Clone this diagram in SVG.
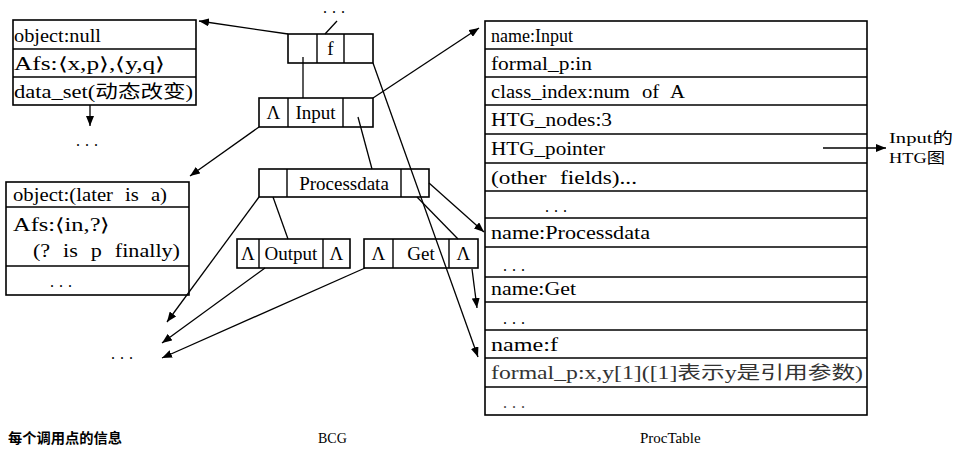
<svg xmlns="http://www.w3.org/2000/svg" width="961" height="456" viewBox="0 0 961 456">
<style>
  text { font-family: "Liberation Serif", "Noto Sans CJK SC", serif; fill: #000; }
  .t { font-size: 18px; word-spacing: 6px; }
  .c { font-size: 19px; text-anchor: middle; }
  .box { fill: #fff; stroke: #000; stroke-width: 1.6; }
  .div { stroke: #000; stroke-width: 1.4; fill: none; }
  .con { stroke: #000; stroke-width: 1.3; fill: none; }
  .arr { marker-end: url(#ah); }
  .dots { font-size: 16px; letter-spacing: 5px; }
  .lbl { font-size: 15px; }
</style>
<defs>
  <marker id="ah" markerUnits="userSpaceOnUse" markerWidth="10" markerHeight="8" refX="10" refY="4" orient="auto">
    <path d="M0,0 L10,4 L0,8 z" fill="#000"/>
  </marker>
</defs>

<g id="callinfo-top">
  <rect class="box" x="13" y="20" width="183" height="85"/>
  <line class="div" x1="13" y1="49" x2="196" y2="49"/>
  <line class="div" x1="13" y1="77" x2="196" y2="77"/>
  <text class="t" x="14" y="42" textLength="87" lengthAdjust="spacingAndGlyphs">object:null</text>
  <text class="t" x="14" y="70" textLength="151" lengthAdjust="spacingAndGlyphs">Afs:⟨x,p⟩,⟨y,q⟩</text>
  <text class="t" x="14" y="98" textLength="179" lengthAdjust="spacingAndGlyphs">data_set(动态改变)</text>
</g>
<text class="dots" x="76" y="146">...</text>

<g id="callinfo-mid">
  <rect class="box" x="6" y="182" width="183" height="113"/>
  <line class="div" x1="6" y1="207" x2="189" y2="207"/>
  <line class="div" x1="6" y1="266" x2="189" y2="266"/>
  <text class="t" x="13" y="201" textLength="154" lengthAdjust="spacingAndGlyphs">object:(later is a)</text>
  <text class="t" x="13" y="231" textLength="97" lengthAdjust="spacingAndGlyphs">Afs:⟨in,?⟩</text>
  <text class="t" x="33" y="257" textLength="147" lengthAdjust="spacingAndGlyphs">(? is p finally)</text>
  <text class="dots" x="50" y="287">...</text>
</g>
<text class="dots" x="111" y="359">...</text>

<g id="node-f">
  <rect class="box" x="288" y="34" width="85" height="29"/>
  <line class="div" x1="317" y1="34" x2="317" y2="63"/>
  <line class="div" x1="344" y1="34" x2="344" y2="63"/>
  <text class="c" x="330.5" y="55">f</text>
</g>
<text class="dots" x="323" y="13">...</text>

<g id="node-input">
  <rect class="box" x="259" y="98" width="114" height="29"/>
  <line class="div" x1="288" y1="98" x2="288" y2="127"/>
  <line class="div" x1="343" y1="98" x2="343" y2="127"/>
  <text class="c" x="273.5" y="119">Λ</text>
  <text class="c" x="315.5" y="119">Input</text>
</g>

<g id="node-processdata">
  <rect class="box" x="259" y="169" width="170" height="28"/>
  <line class="div" x1="287" y1="169" x2="287" y2="197"/>
  <line class="div" x1="401" y1="169" x2="401" y2="197"/>
  <text class="c" x="344" y="190">Processdata</text>
</g>

<g id="node-output">
  <rect class="box" x="237" y="239" width="113" height="29"/>
  <line class="div" x1="259" y1="239" x2="259" y2="268"/>
  <line class="div" x1="323" y1="239" x2="323" y2="268"/>
  <text class="c" x="248" y="260">Λ</text>
  <text class="c" x="291" y="260">Output</text>
  <text class="c" x="336.5" y="260">Λ</text>
</g>

<g id="node-get">
  <rect class="box" x="364" y="239" width="114" height="29"/>
  <line class="div" x1="393" y1="239" x2="393" y2="268"/>
  <line class="div" x1="449" y1="239" x2="449" y2="268"/>
  <text class="c" x="378.5" y="260">Λ</text>
  <text class="c" x="421" y="260">Get</text>
  <text class="c" x="463.5" y="260">Λ</text>
</g>

<g id="proctable">
  <rect class="box" x="485" y="21" width="382" height="394"/>
  <g class="div">
    <line x1="485" y1="49" x2="867" y2="49"/>
    <line x1="485" y1="77" x2="867" y2="77"/>
    <line x1="485" y1="105" x2="867" y2="105"/>
    <line x1="485" y1="134" x2="867" y2="134"/>
    <line x1="485" y1="163" x2="867" y2="163"/>
    <line x1="485" y1="191" x2="867" y2="191"/>
    <line x1="485" y1="218" x2="867" y2="218"/>
    <line x1="485" y1="247" x2="867" y2="247"/>
    <line x1="485" y1="277" x2="867" y2="277"/>
    <line x1="485" y1="302" x2="867" y2="302"/>
    <line x1="485" y1="330" x2="867" y2="330"/>
    <line x1="485" y1="358" x2="867" y2="358"/>
    <line x1="485" y1="387" x2="867" y2="387"/>
  </g>
  <text class="t" x="491" y="42" textLength="82" lengthAdjust="spacingAndGlyphs">name:Input</text>
  <text class="t" x="491" y="70" textLength="101" lengthAdjust="spacingAndGlyphs">formal_p:in</text>
  <text class="t" x="491" y="98" textLength="194" lengthAdjust="spacingAndGlyphs">class_index:num of A</text>
  <text class="t" x="491" y="126" textLength="121" lengthAdjust="spacingAndGlyphs">HTG_nodes:3</text>
  <text class="t" x="491" y="155" textLength="114" lengthAdjust="spacingAndGlyphs">HTG_pointer</text>
  <text class="t" x="491" y="184" textLength="146" lengthAdjust="spacingAndGlyphs">(other fields)...</text>
  <text class="dots" x="545" y="212">...</text>
  <text class="t" x="491" y="239" textLength="159" lengthAdjust="spacingAndGlyphs">name:Processdata</text>
  <text class="dots" x="503" y="271">...</text>
  <text class="t" x="491" y="295" textLength="85" lengthAdjust="spacingAndGlyphs">name:Get</text>
  <text class="dots" x="503" y="324">...</text>
  <text class="t" x="491" y="351" textLength="67" lengthAdjust="spacingAndGlyphs">name:f</text>
  <text class="t" x="491" y="379" textLength="372" lengthAdjust="spacingAndGlyphs" style="fill:#333">formal_p:x,y[1]([1]表示y是引用参数)</text>
  <text class="dots" x="503" y="408" style="fill:#444">...</text>
</g>

<g id="htg-label">
  <text class="lbl" x="889" y="143" textLength="64" lengthAdjust="spacingAndGlyphs">Input的</text>
  <text class="lbl" x="889" y="163" textLength="56" lengthAdjust="spacingAndGlyphs">HTG图</text>
</g>

<g id="connectors">
  <line class="con" x1="337" y1="21" x2="325" y2="34"/>
  <line class="con arr" x1="288" y1="34" x2="199" y2="21"/>
  <line class="con" x1="303" y1="57" x2="303" y2="98"/>
  <line class="con arr" x1="373" y1="63" x2="478" y2="357"/>
  <line class="con arr" x1="259" y1="127" x2="190" y2="176"/>
  <line class="con arr" x1="373" y1="98" x2="479" y2="28"/>
  <line class="con" x1="358" y1="117" x2="372" y2="169"/>
  <line class="con" x1="273" y1="197" x2="288" y2="239"/>
  <line class="con arr" x1="259" y1="197" x2="167" y2="322"/>
  <line class="con arr" x1="429" y1="183" x2="484" y2="232"/>
  <line class="con" x1="417" y1="197" x2="458" y2="239"/>
  <line class="con arr" x1="472" y1="269" x2="477" y2="308"/>
  <line class="con arr" x1="265" y1="268" x2="162" y2="343"/>
  <line class="con arr" x1="365" y1="268" x2="162" y2="358"/>
  <line class="con arr" x1="90" y1="105" x2="90" y2="126"/>
  <line class="con arr" x1="823" y1="148" x2="886" y2="148"/>
</g>

<g id="captions">
  <text x="8" y="443" style="font-size:14px;font-weight:bold" textLength="114" lengthAdjust="spacingAndGlyphs">每个调用点的信息</text>
  <text x="318" y="443" style="font-size:14px">BCG</text>
  <text x="640" y="443" style="font-size:15px">ProcTable</text>
</g>
</svg>
